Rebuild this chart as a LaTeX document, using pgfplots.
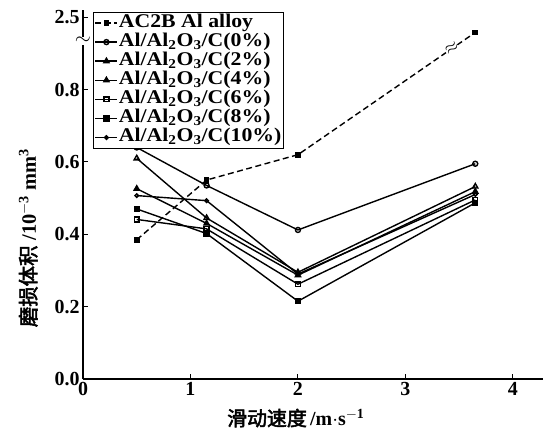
\documentclass[border=0pt]{standalone}
\usepackage{pgfplots}
\pgfplotsset{compat=1.18}
\usepackage{fontspec}
\setmainfont{Liberation Serif}
\newfontfamily\legfont[FakeStretch=1.12]{Liberation Serif}
\newfontfamily\cjk[AutoFakeBold=2.5]{Noto Sans CJK SC}
\begin{document}
\begin{tikzpicture}
\useasboundingbox (-83bp,-58bp) rectangle (460bp,379bp);
\begin{axis}[
  scale only axis, width=460bp, height=369bp,
  xmin=0, xmax=4.28, ymin=0, ymax=1.02,
  axis x line=bottom, axis y line=left,
  axis line style={-, line width=1.3bp, black},
  tick align=inside, major tick length=5bp,
  tick style={line width=1bp, black},
  xtick={0,1,2,3,4}, xticklabels={0,1,2,3,4},
  ytick={0,0.2,0.4,0.6,0.8,1.0}, yticklabels={0.0,0.2,0.4,0.6,0.8,2.5},
  tick label style={font=\bfseries\fontsize{20}{20}\selectfont},
  clip=false,
  legend style={at={(0.022,0.995)}, anchor=north west, draw=black, line width=1.2bp,
    font=\legfont\bfseries\fontsize{19.5}{19.5}\selectfont, inner sep=1bp, row sep=0pt,
    nodes={inner sep=0.8bp, text height=13bp, text depth=4.5bp, anchor=west}},
  legend cell align=left,
  legend image code/.code={\draw[mark repeat=2, mark phase=2, #1] plot coordinates {(0bp,0bp) (11bp,0bp) (22bp,0bp)};},
  every axis plot/.append style={line width=1.4bp, black},
]
\addplot[densely dashed, dash pattern=on 6bp off 3.5bp, mark=square*, mark size=2.2bp, mark options={solid}]
  coordinates {(0.5,0.385) (1.15,0.55) (2.0,0.62) (3.65,0.958)};
\addlegendentry{AC2B Al alloy}
\addplot[mark=o, mark size=2.5bp, mark options={fill=white}]
  coordinates {(0.5,0.64) (1.15,0.535) (2.0,0.412) (3.65,0.595)};
\addlegendentry{Al/Al\textsubscript{2}O\textsubscript{3}/C(0\%)}
\addplot[mark=triangle, mark size=3bp, mark options={fill=white}]
  coordinates {(0.5,0.61) (1.15,0.445) (2.0,0.295) (3.65,0.532)};
\addlegendentry{Al/Al\textsubscript{2}O\textsubscript{3}/C(2\%)}
\addplot[mark=triangle*, mark size=3bp]
  coordinates {(0.5,0.526) (1.15,0.43) (2.0,0.287) (3.65,0.518)};
\addlegendentry{Al/Al\textsubscript{2}O\textsubscript{3}/C(4\%)}
\addplot[mark=square, mark size=2.4bp, mark options={fill=white}]
  coordinates {(0.5,0.441) (1.15,0.415) (2.0,0.262) (3.65,0.495)};
\addlegendentry{Al/Al\textsubscript{2}O\textsubscript{3}/C(6\%)}
\addplot[mark=square*, mark size=2.4bp]
  coordinates {(0.5,0.47) (1.15,0.402) (2.0,0.215) (3.65,0.487)};
\addlegendentry{Al/Al\textsubscript{2}O\textsubscript{3}/C(8\%)}
\addplot[mark=o, mark size=1.8bp, mark options={fill=white}]
  coordinates {(0.5,0.507) (1.15,0.493) (2.0,0.29) (3.65,0.51)};
\addlegendentry{Al/Al\textsubscript{2}O\textsubscript{3}/C(10\%)}
% axis break symbols
\node[fill=white, inner sep=0pt, font=\fontsize{22}{22}\selectfont] at (axis cs:0,0.934) {$\sim$};
\node[fill=white, inner sep=0pt, rotate=35, font=\bfseries\fontsize{18}{18}\selectfont] at (axis cs:3.43,0.913) {$\approx$};
% axis labels
\node[anchor=center, font=\fontsize{20}{20}\selectfont] at (axis cs:1.98,-0.108)
  {{\cjk\bfseries 滑动速度}\,\bfseries/m$\cdot$s\textsuperscript{$-$1}};
\node[anchor=center, rotate=90, font=\fontsize{20.5}{20.5}\selectfont] at (axis cs:-0.51,0.39)
  {{\cjk\bfseries 磨损体积}\ \bfseries/10\textsuperscript{$-$3} mm\textsuperscript{3}};
\end{axis}
\end{tikzpicture}
\end{document}
